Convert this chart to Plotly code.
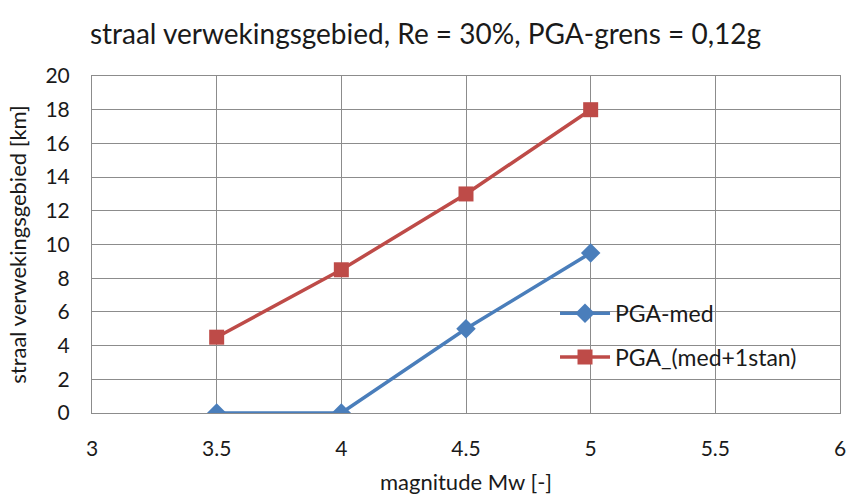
import plotly.graph_objects as go

# magnitude Mw
magnitude = [3.5, 4.0, 4.5, 5.0]
pga_med = [0, 0, 5, 9.5]
pga_med_1stan = [4.5, 8.5, 13, 18]

x_ticks = [3, 3.5, 4, 4.5, 5, 5.5, 6]
x_tick_text = ["3", "3.5", "4", "4.5", "5", "5.5", "6"]

font_family = "Lato, Open Sans, sans-serif"
text_color = "#1a1a1a"
grid_color = "#8C8C8C"

fig = go.Figure()

fig.add_trace(
    go.Scatter(
        x=magnitude,
        y=pga_med,
        mode="lines+markers",
        name="PGA-med",
        legendgroup="med",
        line=dict(color="#4A7EBB", width=3.5),
        marker=dict(symbol="diamond", size=15, color="#4A7EBB"),
    )
)
fig.add_trace(
    go.Scatter(
        x=magnitude,
        y=pga_med_1stan,
        mode="lines+markers",
        name="PGA_(med+1stan)",
        legendgroup="stan",
        line=dict(color="#BE4B48", width=3.5),
        marker=dict(symbol="square", size=15, color="#BE4B48"),
    )
)

fig.update_xaxes(
    range=[3, 6],
    tickvals=x_ticks,
    ticktext=x_tick_text,
    showgrid=True,
    gridcolor=grid_color,
    gridwidth=1,
    showline=True,
    linecolor=grid_color,
    mirror=True,
    zeroline=False,
    ticks="",
    ticklabelstandoff=17,
    tickfont=dict(size=21, color=text_color),
    title=dict(text="magnitude Mw [-]", font=dict(size=22, color=text_color), standoff=18),
)
fig.update_yaxes(
    range=[0, 20],
    dtick=2,
    showgrid=True,
    gridcolor=grid_color,
    gridwidth=1,
    showline=True,
    linecolor=grid_color,
    mirror=True,
    zeroline=False,
    ticks="",
    ticklabelstandoff=17,
    tickfont=dict(size=21, color=text_color),
    title=dict(text="straal verwekingsgebied [km]", font=dict(size=22, color=text_color), standoff=12),
)

fig.update_layout(
    width=851,
    height=495,
    title=dict(
        text="straal verwekingsgebied, Re = 30%, PGA-grens = 0,12g",
        x=0.5,
        xanchor="center",
        y=1 - 34 / 495,
        yref="container",
        yanchor="middle",
        font=dict(size=28, color=text_color),
    ),
    font=dict(family=font_family),
    plot_bgcolor="white",
    paper_bgcolor="white",
    margin=dict(l=92, r=11, t=76, b=82, autoexpand=False),
    legend=dict(
        x=0.619,
        y=0.36,
        xanchor="left",
        yanchor="top",
        bgcolor="rgba(0,0,0,0)",
        font=dict(size=23, color=text_color),
        tracegroupgap=11,
        itemwidth=50,
    ),
)

# drop the default 8px body margin so the figure fills the window exactly
fig.write_html(
    "out.html",
    config={"displayModeBar": False},
    post_script="document.body.style.margin = '0';",
)
